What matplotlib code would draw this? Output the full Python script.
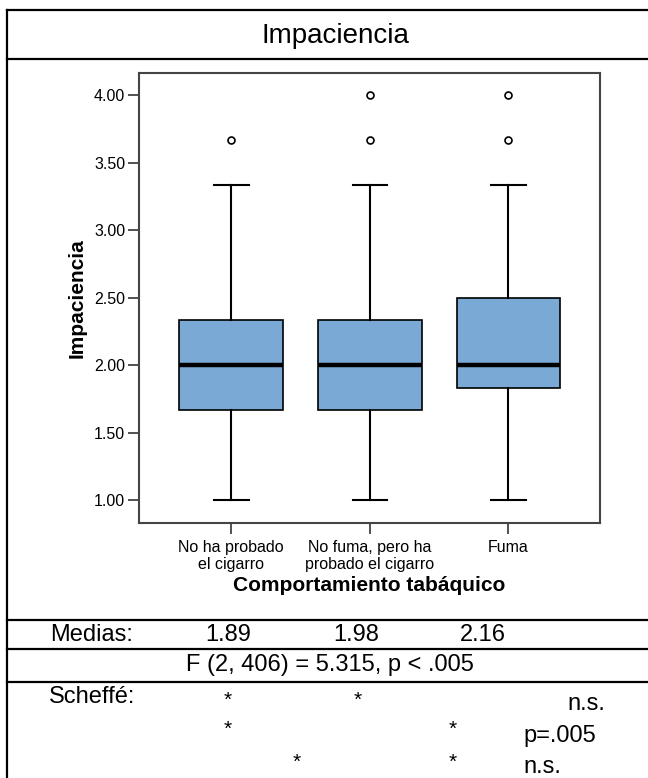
import matplotlib
matplotlib.use("Agg")
import matplotlib.pyplot as plt
from matplotlib.lines import Line2D
from matplotlib.ticker import FormatStrFormatter

plt.rcParams['font.family'] = ['Liberation Sans', 'DejaVu Sans']

# datos del diagrama de caja
grupos = ["No ha probado\nel cigarro", "No fuma, pero ha\nprobado el cigarro", "Fuma"]
q1 = [1.667, 1.667, 1.833]
mediana = [2.0, 2.0, 2.0]
q3 = [2.333, 2.333, 2.5]
bigote_inf = [1.0, 1.0, 1.0]
bigote_sup = [3.333, 3.333, 3.333]
atipicos = [[3.667], [3.667, 4.0], [3.667, 4.0]]

# tabla inferior
medias = ["1.89", "1.98", "2.16"]
texto_f = "F (2, 406) = 5.315, p < .005"
scheffe = [["*", "*", "n.s."], ["*", "*", "p=.005"], ["*", "*", "n.s."]]

W, H = 648, 778
fig = plt.figure(figsize=(W / 100, H / 100), dpi=100)


def fx(x):
    return x / W


def fy(y):
    return 1 - y / H


def linea(x0, y0, x1, y1):
    fig.add_artist(Line2D([fx(x0), fx(x1)], [fy(y0), fy(y1)], color='black', lw=1.6,
                          transform=fig.transFigure))


# marco
linea(7, 10, 7, 778)
for y in [10, 59, 620, 649, 682]:
    linea(7, y, 648, y)

fig.text(fx(335), fy(36), "Impaciencia", ha='center', va='center', fontsize=20)

ax = fig.add_axes([fx(139), fy(523), (600 - 139) / W, (523 - 73) / H])
stats = []
for i in range(len(grupos)):
    stats.append(dict(med=mediana[i], q1=q1[i], q3=q3[i], whislo=bigote_inf[i],
                      whishi=bigote_sup[i], fliers=atipicos[i], label=grupos[i]))
ax.bxp(stats, positions=[1, 2, 3], widths=0.75, capwidths=0.25, patch_artist=True,
       boxprops=dict(facecolor='#7aa9d6', edgecolor='black', linewidth=1.2),
       medianprops=dict(color='black', linewidth=3.2),
       whiskerprops=dict(color='black', linewidth=1.5),
       capprops=dict(color='black', linewidth=1.5),
       flierprops=dict(marker='o', markersize=5, markerfacecolor='white',
                       markeredgecolor='black', markeredgewidth=1.2))

ax.set_xlim(0.335, 3.66)
ax.set_ylim(0.83, 4.163)
ax.set_yticks([1.0, 1.5, 2.0, 2.5, 3.0, 3.5, 4.0])
ax.yaxis.set_major_formatter(FormatStrFormatter('%.2f'))
ax.tick_params(axis='both', length=8, width=1.2, color='#333333', labelsize=11.5, pad=2)
ax.tick_params(axis='x', pad=4)
for s in ax.spines.values():
    s.set_color('#444444')
    s.set_linewidth(1.5)
ax.set_xlabel("Comportamiento tabáquico", fontsize=15, fontweight='bold', labelpad=3)
ax.set_ylabel("Impaciencia", fontsize=15, fontweight='bold', labelpad=5)

# filas de la tabla
fs = 17
fig.text(fx(50), fy(641), "Medias:", fontsize=fs, va='baseline')
for x, m in zip([228, 356, 483], medias):
    fig.text(fx(x), fy(641), m, fontsize=fs, ha='center', va='baseline')
fig.text(fx(330), fy(671), texto_f, fontsize=fs, ha='center', va='baseline')
fig.text(fx(49), fy(703), "Scheffé:", fontsize=fs, va='baseline')

pos_estrellas = [[228, 358], [228, 453], [297, 453]]
base_estrellas = [706, 735, 768]
pos_nota = [567, 523, 523]
base_nota = [710, 742, 773]
for fila, xs, yb, xn, yn in zip(scheffe, pos_estrellas, base_estrellas, pos_nota, base_nota):
    for x, s in zip(xs, fila[:2]):
        fig.text(fx(x), fy(yb), s, fontsize=15, ha='center', va='baseline')
    fig.text(fx(xn), fy(yn), fila[2], fontsize=fs, ha='left', va='baseline')

fig.savefig("out.png", dpi=100)
